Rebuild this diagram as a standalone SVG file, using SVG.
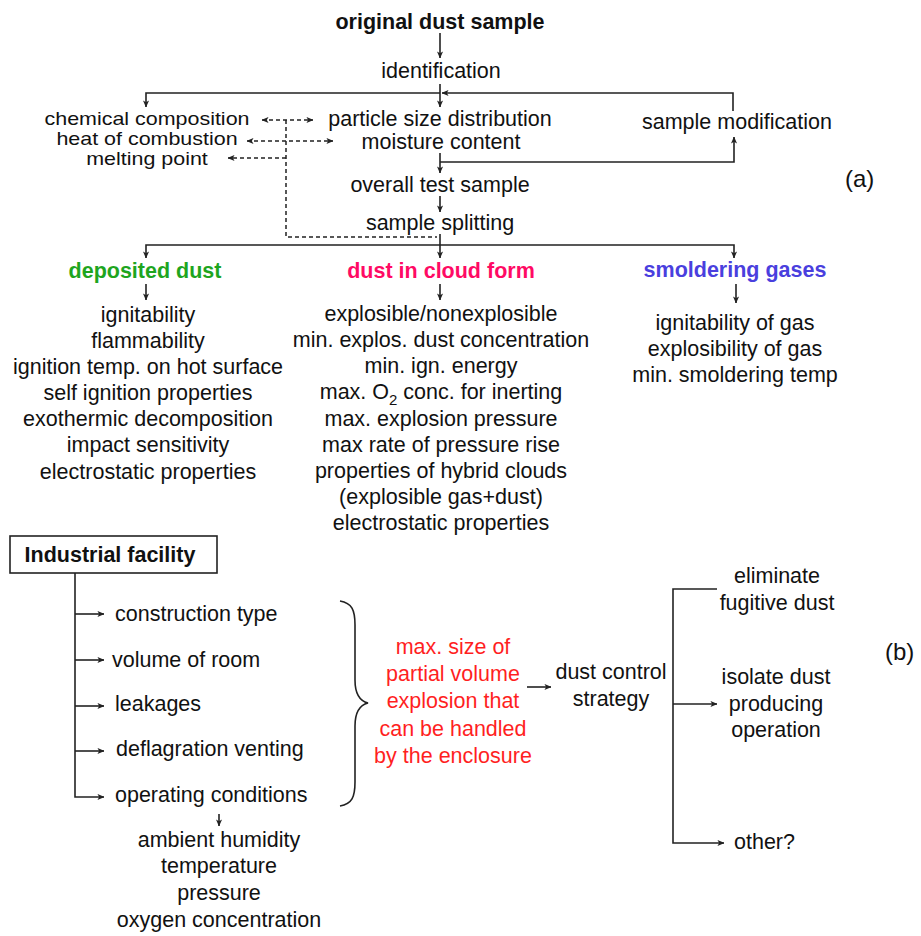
<svg xmlns="http://www.w3.org/2000/svg" width="921" height="936" viewBox="0 0 921 936">
<style>
text{font-family:"Liberation Sans",Arial,sans-serif;font-size:21.5px;fill:#111}
.c{text-anchor:middle}
.b{font-weight:bold}
.sm{font-size:18.5px}
.ln{fill:none;stroke:#222;stroke-width:1.6}
.ds{fill:none;stroke:#222;stroke-width:1.5;stroke-dasharray:4 3}
.red{fill:#ff1f1f}
</style>
<defs>
<marker id="ah" viewBox="0 0 8 8" refX="7.5" refY="4" markerWidth="7" markerHeight="7" markerUnits="userSpaceOnUse" orient="auto-start-reverse">
<path d="M0,0.5 L8,4 L0,7.5 L2,4 z" fill="#222"/>
</marker>
</defs>
<rect width="921" height="936" fill="#fff"/>

<g id="connectors">
<path class="ln" d="M440,33 V58" marker-end="url(#ah)"/>
<path class="ln" d="M440,84 V107" marker-end="url(#ah)"/>
<path class="ln" d="M440,93 H146 V107" marker-end="url(#ah)"/>
<path class="ln" d="M733,111 V93 H442" marker-end="url(#ah)"/>
<path class="ln" d="M440,153 V173" marker-end="url(#ah)"/>
<path class="ln" d="M440,162 H734 V137" marker-end="url(#ah)"/>
<path class="ln" d="M440,196 V212" marker-end="url(#ah)"/>
<path class="ln" d="M440,234 V258" marker-end="url(#ah)"/>
<path class="ln" d="M146,258 V245 H734 V258" marker-start="url(#ah)" marker-end="url(#ah)"/>
<path class="ds" d="M262,120 H313" marker-start="url(#ah)" marker-end="url(#ah)"/>
<path class="ds" d="M247,141 H333" marker-start="url(#ah)" marker-end="url(#ah)"/>
<path class="ds" d="M286,158 H228" marker-end="url(#ah)"/>
<path class="ds" d="M286,120 V237 H437"/>
<path class="ln" d="M146,284 V300" marker-end="url(#ah)"/>
<path class="ln" d="M440,284 V300" marker-end="url(#ah)"/>
<path class="ln" d="M736,284 V303" marker-end="url(#ah)"/>
<path class="ln" d="M75,573 V797 H104" marker-end="url(#ah)"/>
<path class="ln" d="M75,614 H104" marker-end="url(#ah)"/>
<path class="ln" d="M75,660 H104" marker-end="url(#ah)"/>
<path class="ln" d="M75,706 H104" marker-end="url(#ah)"/>
<path class="ln" d="M75,751 H104" marker-end="url(#ah)"/>
<path class="ln" d="M219,814 V826" marker-end="url(#ah)"/>
<path class="ln" d="M340,601 C352,603 355,610 355,625 V680 C355,695 360,701 368,703 C360,705 355,711 355,726 V782 C355,797 352,804 340,806"/>
<path class="ln" d="M527,687 H551" marker-end="url(#ah)"/>
<path class="ln" d="M717,589 H673 V843 H724" marker-end="url(#ah)"/>
<path class="ln" d="M673,704 H717" marker-end="url(#ah)"/>
</g>

<g id="n-original"><text class="c b" x="440" y="29">original dust sample</text></g>
<g id="n-identification"><text class="c" x="441" y="78">identification</text></g>
<g id="n-chem">
<text class="c sm" transform="translate(147,125) scale(1.16,1)">chemical composition</text>
<text class="c sm" transform="translate(147,145) scale(1.16,1)">heat of combustion</text>
<text class="c sm" transform="translate(147,165) scale(1.16,1)">melting point</text>
</g>
<g id="n-particle">
<text class="c" x="440" y="126">particle size distribution</text>
<text class="c" x="441" y="149">moisture content</text>
</g>
<g id="n-modification"><text class="c" x="737" y="129">sample modification</text></g>
<g id="n-overall"><text class="c" x="440" y="192">overall test sample</text></g>
<g id="n-splitting"><text class="c" x="440" y="230">sample splitting</text></g>
<g id="n-label-a"><text x="845" y="187" style="font-size:24px">(a)</text></g>

<g id="n-deposited">
<text class="c b" x="145" y="278" style="fill:#1ea51e">deposited dust</text>
<text class="c" x="148" y="322">ignitability</text>
<text class="c" x="148" y="348">flammability</text>
<text class="c" x="148" y="374">ignition temp. on hot surface</text>
<text class="c" x="148" y="400">self ignition properties</text>
<text class="c" x="148" y="426">exothermic decomposition</text>
<text class="c" x="148" y="452">impact sensitivity</text>
<text class="c" x="148" y="479">electrostatic properties</text>
</g>
<g id="n-cloud">
<text class="c b" x="441" y="278" style="fill:#ff0a64">dust in cloud form</text>
<text class="c" x="441" y="321">explosible/nonexplosible</text>
<text class="c" x="441" y="347">min. explos. dust concentration</text>
<text class="c" x="441" y="373">min. ign. energy</text>
<text class="c" x="441" y="399">max. O<tspan dy="6" style="font-size:15px">2</tspan><tspan dy="-6"> conc. for inerting</tspan></text>
<text class="c" x="441" y="426">max. explosion pressure</text>
<text class="c" x="441" y="452">max rate of pressure rise</text>
<text class="c" x="441" y="478">properties of hybrid clouds</text>
<text class="c" x="441" y="504">(explosible gas+dust)</text>
<text class="c" x="441" y="530">electrostatic properties</text>
</g>
<g id="n-smoldering">
<text class="c b" x="735" y="277" style="fill:#4a3fde">smoldering gases</text>
<text class="c" x="735" y="330">ignitability of gas</text>
<text class="c" x="735" y="356">explosibility of gas</text>
<text class="c" x="735" y="382">min. smoldering temp</text>
</g>

<g id="n-facility">
<rect x="10" y="536" width="207" height="37" fill="#fff" stroke="#222" stroke-width="1.6"/>
<text class="c b" x="110" y="562">Industrial facility</text>
</g>
<g id="n-construction"><text x="115" y="621">construction type</text></g>
<g id="n-volume"><text x="112" y="667">volume of room</text></g>
<g id="n-leakages"><text x="115" y="711">leakages</text></g>
<g id="n-venting"><text x="116" y="756">deflagration venting</text></g>
<g id="n-operating"><text x="115" y="802">operating conditions</text></g>
<g id="n-ambient">
<text class="c" x="219" y="847">ambient humidity</text>
<text class="c" x="219" y="873">temperature</text>
<text class="c" x="219" y="900">pressure</text>
<text class="c" x="219" y="927">oxygen concentration</text>
</g>
<g id="n-maxsize">
<text class="c red" x="453" y="654">max. size of</text>
<text class="c red" x="453" y="681">partial volume</text>
<text class="c red" x="453" y="708">explosion that</text>
<text class="c red" x="453" y="736">can be handled</text>
<text class="c red" x="453" y="763">by the enclosure</text>
</g>
<g id="n-strategy">
<text class="c" x="611" y="679">dust control</text>
<text class="c" x="611" y="706">strategy</text>
</g>
<g id="n-eliminate">
<text class="c" x="777" y="583">eliminate</text>
<text class="c" x="777" y="610">fugitive dust</text>
</g>
<g id="n-isolate">
<text class="c" x="776" y="684">isolate dust</text>
<text class="c" x="776" y="711">producing</text>
<text class="c" x="776" y="737">operation</text>
</g>
<g id="n-other"><text x="734" y="849">other?</text></g>
<g id="n-label-b"><text x="885" y="660" style="font-size:24px">(b)</text></g>
</svg>
